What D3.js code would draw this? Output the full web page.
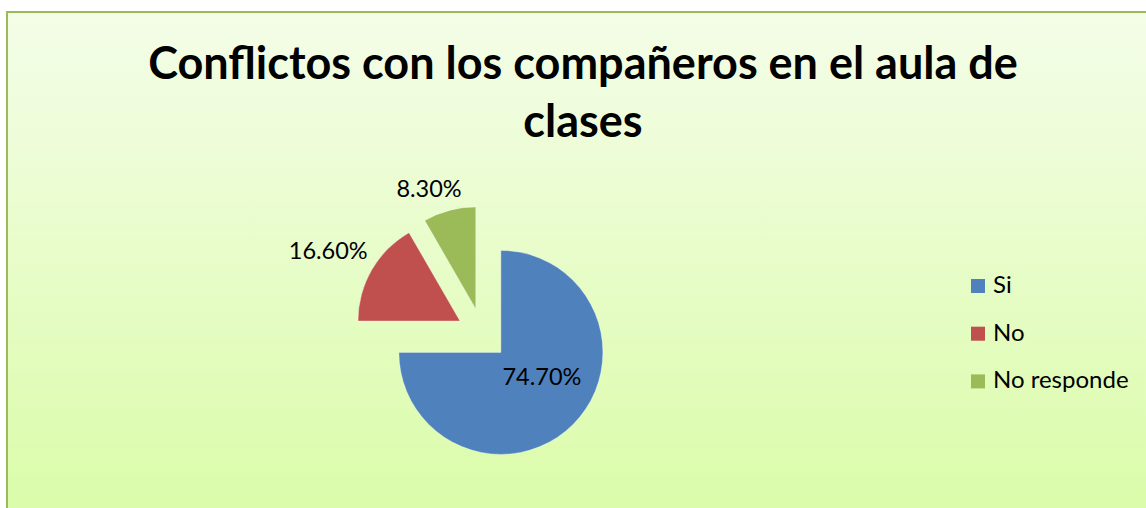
<!DOCTYPE html>
<html lang="es">
<head>
<meta charset="UTF-8">
<title>Conflictos con los compañeros</title>
<script src="https://cdn.jsdelivr.net/npm/d3@7"></script>
<style>
    html, body { margin: 0; padding: 0; background: #fff; }
    svg { display: block; font-family: Lato, "Open Sans", sans-serif; }
</style>
</head>
<body>
<script>
// datos del gráfico
const categories = ['Si', 'No', 'No responde']
const values = [74.7, 16.6, 8.3]
const labels = ['74.70%', '16.60%', '8.30%']
const colors = ['#4f81bd', '#c0504d', '#9bbb59']
const titleLines = ['Conflictos con los compañeros en el aula de', 'clases']

const W = 1146, H = 508
const cfg = {
    cx: 482.5, cy: 334,
    r: 102,
    explode: 26,
    labelGap: 16,
    // pequeños ajustes de las etiquetas (tipo "mejor ajuste" de Excel)
    nudge: [[5, -9], [0, -3], [-14, 8]]
}

const svg = d3.select('body').append('svg')
    .attr('width', W)
    .attr('height', H)

// fondo degradado
const grad = svg.append('defs').append('linearGradient')
    .attr('id', 'bg').attr('x1', 0).attr('y1', 0).attr('x2', 0).attr('y2', 1)
grad.append('stop').attr('offset', '0%').attr('stop-color', '#f4fde8')
grad.append('stop').attr('offset', '100%').attr('stop-color', '#dafca8')

svg.append('rect')
    .attr('x', 7).attr('y', 12)
    .attr('width', W).attr('height', H)
    .attr('fill', 'url(#bg)')
    .attr('stroke', '#9bbb59')
    .attr('stroke-width', 2)

// titulo
svg.append('text')
    .attr('x', 583)
    .attr('text-anchor', 'middle')
    .attr('font-weight', 'bold')
    .attr('font-size', 45)
    .selectAll('tspan')
    .data(titleLines)
    .join('tspan')
    .attr('x', 583)
    .attr('y', (d, i) => 79 + i * 58)
    .text(d => d)

// pastel
const pie = d3.pie().sort(null).value(d => d)
const arcs = pie(values)
const arc = d3.arc().innerRadius(0).outerRadius(cfg.r)

function dir(a) {
    const m = (a.startAngle + a.endAngle) / 2
    return { x: Math.sin(m), y: -Math.cos(m) }
}

const g = svg.append('g').attr('transform', `translate(${cfg.cx},${cfg.cy})`)

g.selectAll('path')
    .data(arcs)
    .join('path')
    .attr('d', arc)
    .attr('fill', (d, i) => colors[i])
    .attr('stroke', 'rgba(255,255,255,0.35)')
    .attr('stroke-width', 1)
    .attr('transform', d => {
        const v = dir(d)
        return `translate(${v.x * cfg.explode},${v.y * cfg.explode})`
    })

// etiquetas
g.selectAll('text.lbl')
    .data(arcs)
    .join('text')
    .attr('class', 'lbl')
    .attr('font-size', 23.5)
    .attr('fill', '#000')
    .attr('text-anchor', 'middle')
    .attr('dominant-baseline', 'middle')
    .text((d, i) => labels[i])
    .each(function (d, i) {
        const v = dir(d)
        const t = d3.select(this)
        let x, y
        if (i === 0) {
            // dentro del sector
            const c = arc.centroid(d)
            x = c[0] + v.x * cfg.explode
            y = c[1] + v.y * cfg.explode
        } else {
            const hw = this.getComputedTextLength() / 2, hh = 12
            const o = cfg.r + cfg.explode + cfg.labelGap
            x = v.x * o + v.x * Math.abs(v.x) * hw
            y = v.y * o + v.y * hh
        }
        t.attr('x', x + cfg.nudge[i][0]).attr('y', y + cfg.nudge[i][1])
    })

// leyenda
const legend = svg.append('g').attr('transform', 'translate(971,279)')
const item = legend.selectAll('g')
    .data(categories)
    .join('g')
    .attr('transform', (d, i) => `translate(0,${i * 47.7})`)
item.append('rect')
    .attr('width', 14).attr('height', 14)
    .attr('fill', (d, i) => colors[i])
item.append('text')
    .attr('x', 22).attr('y', 14)
    .attr('font-size', 24)
    .text(d => d)
</script>
</body>
</html>
